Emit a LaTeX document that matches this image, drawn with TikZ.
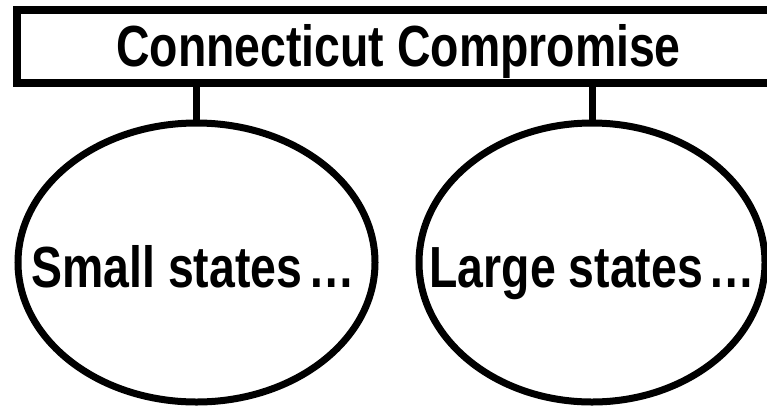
\documentclass[tikz,border=0pt]{standalone}
\usepackage{fontspec}
\setmainfont{Liberation Sans}[FakeStretch=0.8]
\usetikzlibrary{shapes.geometric}
\tikzset{
  frame/.style={draw, line width=8pt, rectangle, inner sep=0pt},
  oval/.style={draw, line width=7pt, ellipse, inner sep=0pt, minimum height=279pt},
  ovaltext/.style={anchor=base, inner sep=0pt, font=\bfseries\fontsize{58}{60}\selectfont},
  titletext/.style={anchor=base, inner sep=0pt, font=\bfseries\fontsize{58}{60}\selectfont},
  conn/.style={line width=7pt}
}
\begin{document}
\begin{tikzpicture}[x=1pt,y=-1pt]
\useasboundingbox (0,0) rectangle (767,408);
\clip (0,0) rectangle (767,408);
\node[frame, minimum width=783pt, minimum height=73pt] (box) at (408.5,46.5) {};
\node[titletext] (title) at (398.5,66) {Connecticut Compromise};
\node[oval, minimum width=357pt] (small) at (196.5,262.5) {};
\node[oval, minimum width=346pt] (large) at (592,262.5) {};
\node[ovaltext] (smalltxt) at ([shift={(-3.5,24.5)}]small.center) {Small states\hspace{6pt}\ldots};
\node[ovaltext] (largetxt) at ([shift={(0.5,24.5)}]large.center) {Large states\hspace{6pt}\ldots};
\draw[conn] (box.south -| small.north) -- (small.north);
\draw[conn] (box.south -| large.north) -- (large.north);
\end{tikzpicture}
\end{document}
